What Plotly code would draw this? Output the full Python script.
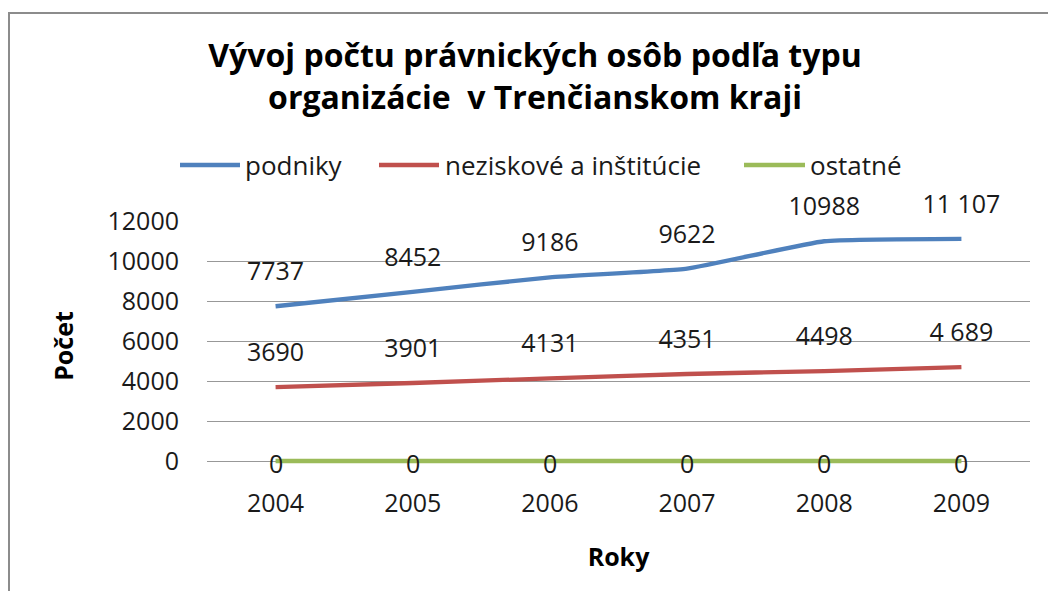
import plotly.graph_objects as go

years = ["2004", "2005", "2006", "2007", "2008", "2009"]
podniky = [7737, 8452, 9186, 9622, 10988, 11107]
neziskove = [3690, 3901, 4131, 4351, 4498, 4689]
ostatne = [0, 0, 0, 0, 0, 0]
podniky_labels = ["7737", "8452", "9186", "9622", "10988", "11 107"]
neziskove_labels = ["3690", "3901", "4131", "4351", "4498", "4 689"]
ostatne_labels = ["0", "0", "0", "0", "0", "0"]
series_names = ["podniky", "neziskové a inštitúcie", "ostatné"]
colors = ["#4F81BD", "#C0504D", "#9BBB59"]

FONT = "Open Sans"
TXT = "#1a1a1a"
W, H = 1040, 583           # page body has an 8px margin
Y_MIN, Y_MAX = -500, 12000  # small pad below zero so the zero line is not clipped
PL, PR, PT, PB = 199, 1022, 213, 463   # plot area in figure pixels


def px2paper_x(px):
    return (px - PL) / (PR - PL)


def px2paper_y(py):
    return (PB - py) / (PB - PT)


fig = go.Figure()
for name, vals, col in zip(series_names, [podniky, neziskove, ostatne], colors):
    fig.add_trace(go.Scatter(x=years, y=vals, name=name, mode="lines", showlegend=False,
                             hoverinfo="x+y+name",
                             line=dict(color=col, width=4.3, shape="spline", smoothing=0.4)))

# data labels above the two upper series
for vals, labels in [(podniky, podniky_labels), (neziskove, neziskove_labels)]:
    fig.add_trace(go.Scatter(x=years, y=vals, text=labels, mode="markers+text",
                             textposition="top center", showlegend=False, hoverinfo="skip",
                             cliponaxis=False,
                             marker=dict(size=30, color="rgba(0,0,0,0)"),
                             textfont=dict(family=FONT, size=25, color=TXT)))

# manual legend (Excel-style long line samples)
legend_items = [(172, 232, 237), (371, 431, 437), (736, 797, 802)]
leg_y = 157
shapes = [dict(type="rect", xref="paper", yref="paper",
               x0=px2paper_x(1), x1=1.3, y0=-1.5, y1=px2paper_y(5),
               line=dict(color="#8c8c8c", width=2), fillcolor="rgba(0,0,0,0)", layer="below")]
annotations = []
for (x0, x1, tx), name, col in zip(legend_items, series_names, colors):
    shapes.append(dict(type="line", xref="paper", yref="paper",
                       x0=px2paper_x(x0), x1=px2paper_x(x1),
                       y0=px2paper_y(leg_y), y1=px2paper_y(leg_y),
                       line=dict(color=col, width=4.3)))
    annotations.append(dict(xref="paper", yref="paper", x=px2paper_x(tx - 2), y=px2paper_y(leg_y),
                            xanchor="left", yanchor="middle", showarrow=False, text=name,
                            font=dict(family=FONT, size=26, color=TXT)))

# zero labels centred on the ostatné line
for i, (yv, t) in enumerate(zip(ostatne, ostatne_labels)):
    annotations.append(dict(xref="x", yref="y", x=i, y=yv, text=t, showarrow=False,
                            xanchor="center", yanchor="middle", yshift=-2,
                            font=dict(family=FONT, size=25, color=TXT)))

fig.update_layout(
    width=W, height=H,
    paper_bgcolor="white", plot_bgcolor="white",
    margin=dict(l=PL, r=W - PR, t=PT, b=H - PB),
    title=dict(text="Vývoj počtu právnických osôb podľa typu<br>organizácie \u00a0v Trenčianskom kraji",
               x=527 / W, xanchor="center", xref="container",
               y=1 - 59 / H, yanchor="top", yref="container",
               font=dict(family=FONT, size=32, color="black", weight="bold")),
    showlegend=False,
    shapes=shapes,
    annotations=annotations,
)

fig.update_xaxes(type="category", range=[-0.5, 5.5], showgrid=False, showline=False, zeroline=False,
                 ticks="", ticklabelstandoff=15,
                 tickfont=dict(family=FONT, size=25, color=TXT),
                 title=dict(text="Roky", standoff=30, font=dict(family=FONT, size=25, color="black", weight="bold")))
fig.update_yaxes(range=[Y_MIN, Y_MAX], tick0=0, dtick=2000, tickformat="d", showgrid=True,
                 gridcolor="#989898", gridwidth=1,
                 showline=False, zeroline=False, ticks="", ticklabelstandoff=27,
                 tickfont=dict(family=FONT, size=25, color=TXT),
                 title=dict(text="Počet", standoff=26, font=dict(family=FONT, size=25, color="black", weight="bold")))

fig.write_html("out.html")
